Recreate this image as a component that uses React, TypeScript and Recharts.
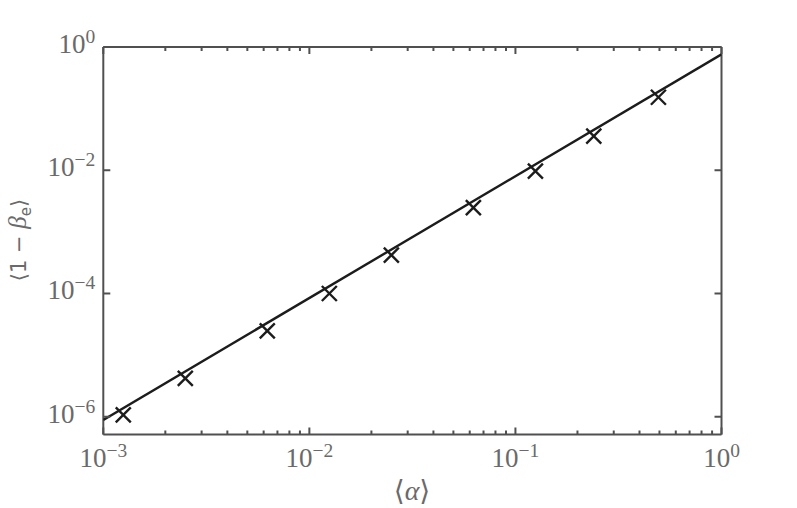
import { ScatterChart, Scatter, XAxis, YAxis } from "recharts";

// measured points: <alpha> vs <1 - beta_e>
const alphaMean = [0.00125, 0.0025, 0.00625, 0.0125, 0.025, 0.0625, 0.125, 0.24, 0.494];
const betaGap = [1.07e-6, 4.2e-6, 2.48e-5, 1.0e-4, 4.2e-4, 2.48e-3, 9.7e-3, 3.58e-2, 0.153];

// power-law fit line (end points)
const fitAlpha = [0.001, 1];
const fitBetaGap = [8.9e-7, 0.76];

const xMajorTicks = [0.001, 0.01, 0.1, 1];
const xMinorTicks = [
    0.002, 0.003, 0.004, 0.005, 0.006, 0.007, 0.008, 0.009,
    0.02, 0.03, 0.04, 0.05, 0.06, 0.07, 0.08, 0.09,
    0.2, 0.3, 0.4, 0.5, 0.6, 0.7, 0.8, 0.9,
];
const xExponents = ["−3", "−2", "−1", "0"];
const yMajorTicks = [1e-6, 1e-4, 1e-2, 1];
const yExponents = ["−6", "−4", "−2", "0"];

const AXIS = "#505050";
const INK = "#1c1c1c";
const LABEL = "#6a6a6a";
const SERIF = "'Liberation Serif', 'DejaVu Serif', serif";
const SANS = "'DejaVu Sans', sans-serif";

const points = alphaMean.map((a, i) => ({ alpha: a, gap: betaGap[i] }));
const fitLine = fitAlpha.map((a, i) => ({ alpha: a, gap: fitBetaGap[i] }));
const xTicks = [...xMajorTicks, ...xMinorTicks];

const CrossMark = (props: any) => {
    const { cx, cy } = props;
    const r = 7.5;
    return (
        <g stroke={INK} strokeWidth={2.4}>
            <line x1={cx - r} y1={cy - r} x2={cx + r} y2={cy + r} />
            <line x1={cx - r} y1={cy + r} x2={cx + r} y2={cy - r} />
        </g>
    );
};

const PowerLabel = ({ x, y, exp, anchor }: { x: number; y: number; exp: string; anchor: "middle" | "end" }) => (
    <text x={x} y={y} textAnchor={anchor} fill={LABEL} fontFamily={SERIF} fontSize={27}>
        <tspan>10</tspan>
        <tspan dy={-10} fontSize={19.5}>{exp}</tspan>
    </text>
);

// bottom axis: ticks point up, labels below
const BottomTick = (props: any) => {
    const { x, y, payload } = props;
    const idx = xMajorTicks.indexOf(payload.value);
    const len = idx >= 0 ? 7 : 4;
    return (
        <g>
            <line x1={x} y1={y} x2={x} y2={y - len} stroke={AXIS} strokeWidth={2} />
            {idx >= 0 && <PowerLabel x={x} y={y + 32} exp={xExponents[idx]} anchor="middle" />}
        </g>
    );
};

const TopTick = (props: any) => {
    const { x, y, payload } = props;
    const len = xMajorTicks.includes(payload.value) ? 7 : 4;
    return <line x1={x} y1={y} x2={x} y2={y + len} stroke={AXIS} strokeWidth={2} />;
};

const LeftTick = (props: any) => {
    const { x, y, payload } = props;
    const idx = yMajorTicks.indexOf(payload.value);
    return (
        <g>
            <line x1={x} y1={y} x2={x + 7} y2={y} stroke={AXIS} strokeWidth={2} />
            <PowerLabel x={x - 8} y={y + 6} exp={yExponents[idx]} anchor="end" />
        </g>
    );
};

const RightTick = (props: any) => {
    const { x, y } = props;
    return <line x1={x} y1={y} x2={x - 7} y2={y} stroke={AXIS} strokeWidth={2} />;
};

const XTitle = () => (
    <text x={412} y={500} textAnchor="middle" fill={LABEL} fontSize={28} fontFamily={SERIF}>
        <tspan fontFamily={SANS}>⟨</tspan>
        <tspan fontStyle="italic">α</tspan>
        <tspan fontFamily={SANS}>⟩</tspan>
    </text>
);

const YTitle = () => (
    <text x={26} y={240} transform="rotate(-90 26 240)" textAnchor="middle" fill={LABEL} fontSize={21} fontFamily={SANS}>
        <tspan>⟨1 − </tspan>
        <tspan fontFamily={SERIF} fontStyle="italic" fontSize={25}>β</tspan>
        <tspan fontSize={15} dy={5}>e</tspan>
        <tspan dy={-5}>⟩</tspan>
    </text>
);

export default function App() {
    return (
        <div style={{ position: "absolute", left: 0, top: 0, background: "#fff" }}>
            <ScatterChart
                width={797}
                height={508}
                margin={{ top: 37, right: 65.5, bottom: 33.5, left: 53.3 }}
            >
                <XAxis
                    xAxisId="bottom"
                    dataKey="alpha"
                    type="number"
                    scale="log"
                    domain={[0.001, 1]}
                    allowDataOverflow
                    ticks={xTicks}
                    interval={0}
                    height={40}
                    tickSize={0}
                    tickMargin={0}
                    tickLine={false}
                    axisLine={{ stroke: AXIS, strokeWidth: 2 }}
                    tick={<BottomTick />}
                    label={<XTitle />}
                />
                <XAxis
                    xAxisId="top"
                    orientation="top"
                    dataKey="alpha"
                    type="number"
                    scale="log"
                    domain={[0.001, 1]}
                    allowDataOverflow
                    ticks={xTicks}
                    interval={0}
                    height={10}
                    tickSize={0}
                    tickMargin={0}
                    tickLine={false}
                    axisLine={{ stroke: AXIS, strokeWidth: 2 }}
                    tick={<TopTick />}
                />
                <YAxis
                    yAxisId="left"
                    dataKey="gap"
                    type="number"
                    scale="log"
                    domain={[5.15e-7, 1]}
                    allowDataOverflow
                    ticks={yMajorTicks}
                    interval={0}
                    width={50}
                    tickSize={0}
                    tickMargin={0}
                    tickLine={false}
                    axisLine={{ stroke: AXIS, strokeWidth: 2 }}
                    tick={<LeftTick />}
                    label={<YTitle />}
                />
                <YAxis
                    yAxisId="right"
                    orientation="right"
                    dataKey="gap"
                    type="number"
                    scale="log"
                    domain={[5.15e-7, 1]}
                    allowDataOverflow
                    ticks={yMajorTicks}
                    interval={0}
                    width={10}
                    tickSize={0}
                    tickMargin={0}
                    tickLine={false}
                    axisLine={{ stroke: AXIS, strokeWidth: 2 }}
                    tick={<RightTick />}
                />
                <Scatter
                    xAxisId="bottom"
                    yAxisId="left"
                    data={points}
                    shape={<CrossMark />}
                    isAnimationActive={false}
                />
                <Scatter
                    xAxisId="bottom"
                    yAxisId="left"
                    data={fitLine}
                    line={{ stroke: INK, strokeWidth: 2.4 }}
                    lineType="joint"
                    shape={() => <g />}
                    isAnimationActive={false}
                />
            </ScatterChart>
        </div>
    );
}
